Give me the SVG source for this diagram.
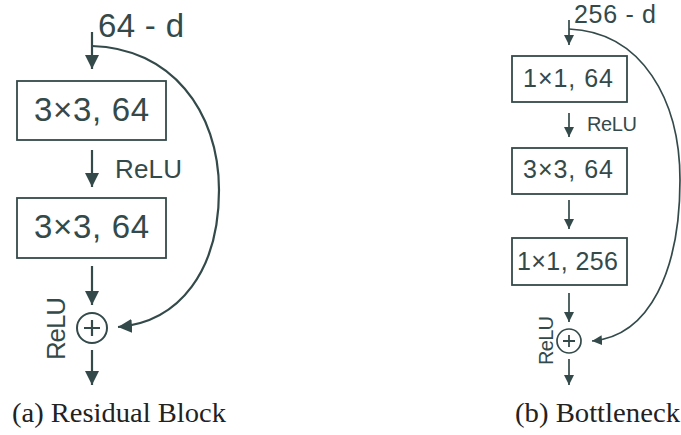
<svg xmlns="http://www.w3.org/2000/svg" width="681" height="435" viewBox="0 0 681 435">
<style>
.ln{stroke:#344a4a;fill:none}
.box{fill:#fff;stroke:#344a4a;stroke-width:1.8}
.t{font-family:"Liberation Sans",Arial,sans-serif;fill:#344a4a}
.cap{font-family:"Liberation Serif","Times New Roman",serif;fill:#222;font-size:27px}
</style>
<defs>
<marker id="ah" markerUnits="userSpaceOnUse" markerWidth="14" markerHeight="14" viewBox="0 0 12 12" refX="12" refY="6" orient="auto">
<path d="M0,0 L12,6 L0,12 Z" fill="#344a4a"/>
</marker>
<marker id="as" markerUnits="userSpaceOnUse" markerWidth="10" markerHeight="10" viewBox="0 0 12 12" refX="12" refY="6" orient="auto">
<path d="M0,0 L12,6 L0,12 Z" fill="#344a4a"/>
</marker>
</defs>
<g id="connectors">
<g class="ln" stroke-width="2.2">
<path d="M92,32 V69" marker-end="url(#ah)"/>
<path d="M92,46 C170,48 219,110 219,190 C219,270 180,322 118,327" marker-end="url(#ah)"/>
<path d="M92,150 V187" marker-end="url(#ah)"/>
<path d="M92,266 V305" marker-end="url(#ah)"/>
<path d="M92,350 V385" marker-end="url(#ah)"/>
</g>
<g class="ln" stroke-width="1.7">
<path d="M569,20 V45" marker-end="url(#as)"/>
<path d="M569,29 C642,32 680,100 680,180 C680,270 650,336 592,341" marker-end="url(#as)"/>
<path d="M569,113 V137" marker-end="url(#as)"/>
<path d="M569,200 V229" marker-end="url(#as)"/>
<path d="M569,293 V322" marker-end="url(#as)"/>
<path d="M569,359 V385" marker-end="url(#as)"/>
</g>
</g>
<g id="a-input"><text class="t" x="98" y="37" font-size="33" textLength="86">64 - d</text></g>
<g id="a-conv1">
<rect class="box" x="17" y="81" width="149" height="59"/>
<text class="t" x="91.5" y="121" font-size="33" text-anchor="middle" textLength="115">3×3, 64</text>
</g>
<g id="a-relu1"><text class="t" x="115" y="178" font-size="26" textLength="67">ReLU</text></g>
<g id="a-conv2">
<rect class="box" x="17" y="198" width="149" height="60"/>
<text class="t" x="91.5" y="238" font-size="33" text-anchor="middle" textLength="115">3×3, 64</text>
</g>
<g id="a-add">
<circle cx="92" cy="328" r="15" fill="#fff" stroke="#344a4a" stroke-width="2"/>
<path class="ln" stroke-width="2.2" d="M84,328 H100 M92,320 V336"/>
<text class="t" transform="translate(65,360) rotate(-90)" font-size="26" textLength="63">ReLU</text>
</g>
<g id="a-caption"><text class="cap" x="12" y="422" textLength="214" lengthAdjust="spacingAndGlyphs">(a) Residual Block</text></g>
<g id="b-input"><text class="t" x="574" y="23" font-size="25" textLength="82">256 - d</text></g>
<g id="b-conv1">
<rect class="box" x="512" y="56" width="115" height="46"/>
<text class="t" x="568" y="87" font-size="25" text-anchor="middle" textLength="90">1×1, 64</text>
</g>
<g id="b-relu1"><text class="t" x="587" y="131" font-size="20" textLength="50">ReLU</text></g>
<g id="b-conv2">
<rect class="box" x="512" y="148" width="115" height="46"/>
<text class="t" x="568" y="178" font-size="25" text-anchor="middle" textLength="90">3×3, 64</text>
</g>
<g id="b-conv3">
<rect class="box" x="512" y="238" width="115" height="47"/>
<text class="t" x="567.5" y="270" font-size="25" text-anchor="middle" textLength="101">1×1, 256</text>
</g>
<g id="b-add">
<circle cx="569" cy="341" r="12" fill="#fff" stroke="#344a4a" stroke-width="1.7"/>
<path class="ln" stroke-width="1.8" d="M563,341 H575 M569,335 V347"/>
<text class="t" transform="translate(553,365) rotate(-90)" font-size="20" textLength="49">ReLU</text>
</g>
<g id="b-caption"><text class="cap" x="515" y="422" textLength="165" lengthAdjust="spacingAndGlyphs">(b) Bottleneck</text></g>
</svg>
